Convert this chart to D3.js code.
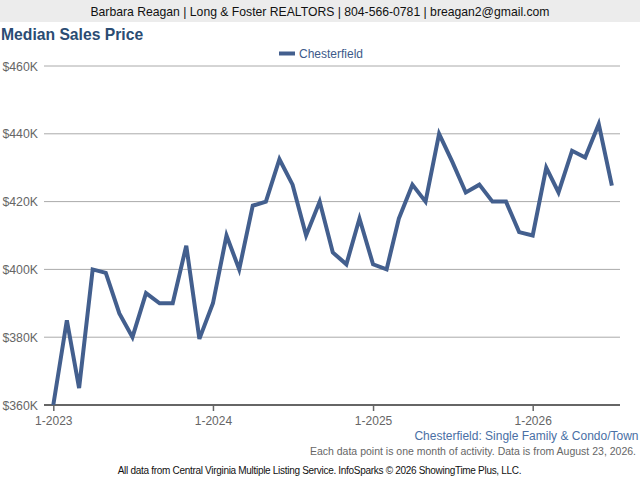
<!DOCTYPE html>
<html><head><meta charset="utf-8">
<script src="https://cdn.jsdelivr.net/npm/d3@7"></script>
<style>html,body{margin:0;padding:0;background:#fff;}svg{display:block;font-family:"Liberation Sans",Arial,sans-serif;}</style>
</head><body>
<svg id="c" width="640" height="480"></svg>
<script>
const months = ["2023-01","2023-02","2023-03","2023-04","2023-05","2023-06","2023-07","2023-08","2023-09","2023-10","2023-11","2023-12",
"2024-01","2024-02","2024-03","2024-04","2024-05","2024-06","2024-07","2024-08","2024-09","2024-10","2024-11","2024-12",
"2025-01","2025-02","2025-03","2025-04","2025-05","2025-06","2025-07","2025-08","2025-09","2025-10","2025-11","2025-12",
"2026-01","2026-02","2026-03","2026-04","2026-05","2026-06","2026-07"];
const chesterfield = [360000,385000,365000,400000,399000,387000,380000,393000,390000,390000,407000,379500,
390000,410000,400000,418800,420000,432500,425000,410000,420000,405000,401500,415000,
401500,400000,415000,425000,420000,440000,431800,422700,425000,420000,420000,411000,
410000,430000,422700,435000,433000,442900,424700];
const yTicks = [360000,380000,400000,420000,440000,460000];
const xTicks = ["2023-01","2024-01","2025-01","2026-01"];
const seriesName = "Chesterfield";

const svg = d3.select("#c");
const parse = d3.timeParse("%Y-%m");
const data = months.map((m,i)=>({d:parse(m),v:chesterfield[i]}));

// header
svg.append("rect").attr("x",0).attr("y",0).attr("width",640).attr("height",22).attr("fill","#ececec");
svg.append("text").attr("x",320).attr("y",15.5).attr("text-anchor","middle").attr("font-size",12.2).attr("fill","#111")
  .text("Barbara Reagan | Long & Foster REALTORS | 804-566-0781 | breagan2@gmail.com");
svg.append("text").attr("x",1).attr("y",40).attr("font-size",15.7).attr("font-weight","bold").attr("fill","#2b4c73")
  .text("Median Sales Price");

// legend
svg.append("line").attr("x1",279).attr("x2",295).attr("y1",53.5).attr("y2",53.5).attr("stroke","#435f8e").attr("stroke-width",4);
svg.append("text").attr("x",299).attr("y",58).attr("font-size",12).attr("fill","#3d5a8a").text(seriesName);

const x = d3.scaleTime().domain([parse("2023-01"),parse("2026-01")]).range([53.3,532.7]);
const y = d3.scaleLinear().domain([360000,460000]).range([405,66]);

// grid
svg.append("g").selectAll("line").data(yTicks.slice(1)).join("line")
  .attr("x1",44).attr("x2",620).attr("y1",d=>y(d)).attr("y2",d=>y(d)).attr("stroke","#aaa").attr("stroke-width",1);

// y labels
svg.append("g").selectAll("text").data(yTicks).join("text")
  .attr("x",38).attr("y",d=>y(d)+4.5).attr("text-anchor","end").attr("font-size",12.3).attr("fill","#666")
  .text(d=>"$"+d3.format(",")(d/1000)+"K");

// x axis
const xa = svg.append("g").attr("transform","translate(0,405)")
  .call(d3.axisBottom(x).tickValues(xTicks.map(parse)).tickSize(6).tickFormat(d3.timeFormat("%-m-%Y")));
xa.select(".domain").remove();
xa.append("line").attr("x1",44).attr("x2",620).attr("y1",0).attr("y2",0).attr("stroke","#666").attr("stroke-width",2);
xa.selectAll(".tick line").attr("stroke","#666").attr("stroke-width",1.5);
xa.selectAll(".tick text").attr("font-size",12).attr("fill","#666").attr("dy","0.95em").attr("font-family","Liberation Sans, Arial, sans-serif");

// line
svg.append("path").datum(data).attr("fill","none").attr("stroke","#435f8e").attr("stroke-width",4)
  .attr("stroke-linejoin","miter").attr("stroke-linecap","butt")
  .attr("d",d3.line().x(d=>x(d.d)).y(d=>y(d.v)));

// footers
svg.append("text").attr("x",638.5).attr("y",439.5).attr("text-anchor","end").attr("font-size",12).attr("fill","#4a6fa5")
  .text("Chesterfield: Single Family & Condo/Town");
svg.append("text").attr("x",636).attr("y",454.5).attr("text-anchor","end").attr("font-size",10.5).attr("fill","#666")
  .text("Each data point is one month of activity. Data is from August 23, 2026.");
svg.append("text").attr("x",319.5).attr("y",474).attr("text-anchor","middle").attr("font-size",10).attr("fill","#111").attr("letter-spacing","-0.3")
  .text("All data from Central Virginia Multiple Listing Service. InfoSparks © 2026 ShowingTime Plus, LLC.");
</script>
</body></html>
